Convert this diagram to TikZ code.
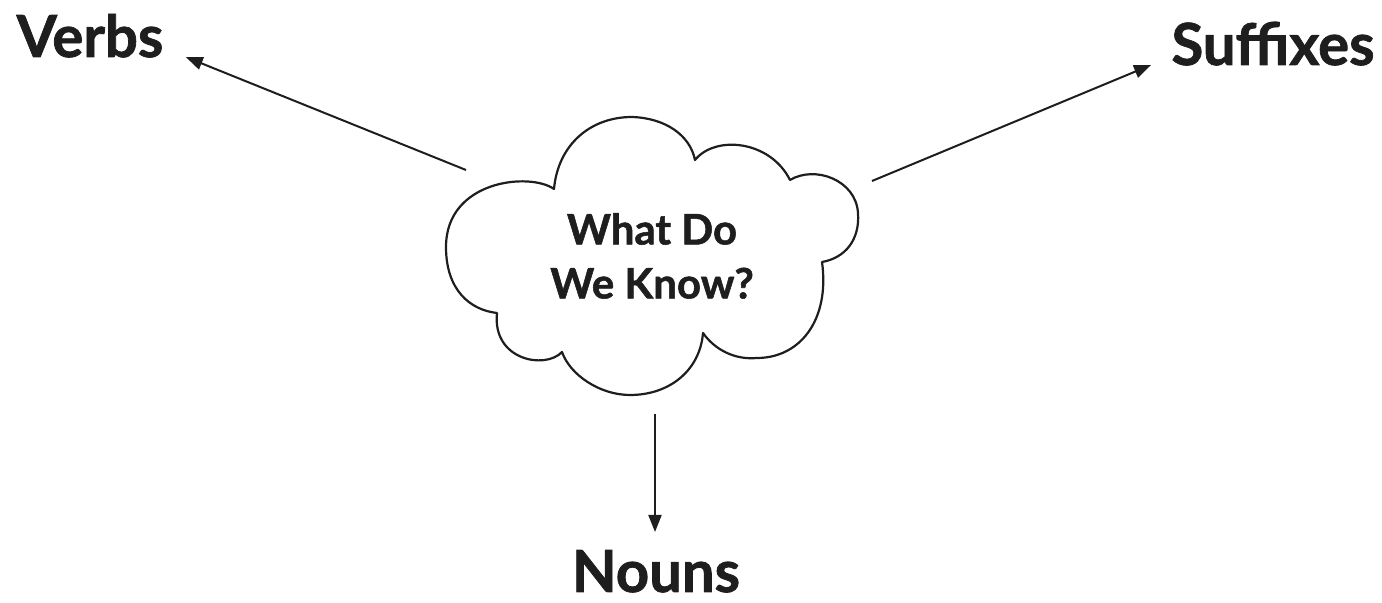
\documentclass[tikz,border=0pt]{standalone}
\usepackage{fontspec}
\setmainfont{Lato}[BoldFeatures={FakeBold=1.3}]
\usetikzlibrary{arrows.meta}
\definecolor{ink}{HTML}{1E1E1E}
\begin{document}
\begin{tikzpicture}[x=0.5pt,y=-0.5pt,
  lbl/.style={font=\fontsize{29}{34}\selectfont\bfseries, text=ink, inner sep=0pt, anchor=base},
  qtext/.style={font=\fontsize{21}{27}\selectfont\bfseries, text=ink, inner sep=0pt, align=center},
  arr/.style={draw=ink, line width=1pt, -{Triangle[length=8.5pt,width=6.5pt]}},
  cloudline/.style={draw=ink, line width=1.1pt, line join=round}]
\useasboundingbox (0,0) rectangle (1382,603);
% cloud outline
\draw[cloudline]
  (554,189) .. controls (530,172) and (446,180) .. (446,247)
  .. controls (446,290) and (470,310) .. (497,313)
  .. controls (492,360) and (545,370) .. (562,352)
  .. controls (570,375) and (600,395) .. (630,395)
  .. controls (670,395) and (700,370) .. (703,333)
  .. controls (715,350) and (735,360) .. (757,358)
  .. controls (800,358) and (830,320) .. (822,262)
  .. controls (845,258) and (860,240) .. (858,213)
  .. controls (856,180) and (815,165) .. (790,180)
  .. controls (770,140) and (715,135) .. (695,160)
  .. controls (690,135) and (665,118) .. (632,117)
  .. controls (590,117) and (558,145) .. (554,189) -- cycle;
% texts
\node[qtext] (q) at (652,256) {What Do\\We Know?};
\node[lbl] (verbs) at (90,57) {Verbs};
\node[lbl] (suffixes) at (1273,65) {Suffixes};
\node[lbl] (nouns) at (656,592) {Nouns};
% connector ends
\coordinate (qv) at (466,170);
\coordinate (qs) at (872,181);
\coordinate (qn) at (655,414);
\coordinate (vtip) at ([xshift=11pt]verbs.base east);
\coordinate (stip) at ([xshift=-10pt]suffixes.base west);
\coordinate (ntip) at (655,532);
% arrows
\draw[arr] (qv) -- (vtip);
\draw[arr] (qs) -- (stip);
\draw[arr] (qn) -- (ntip);
\end{tikzpicture}
\end{document}
